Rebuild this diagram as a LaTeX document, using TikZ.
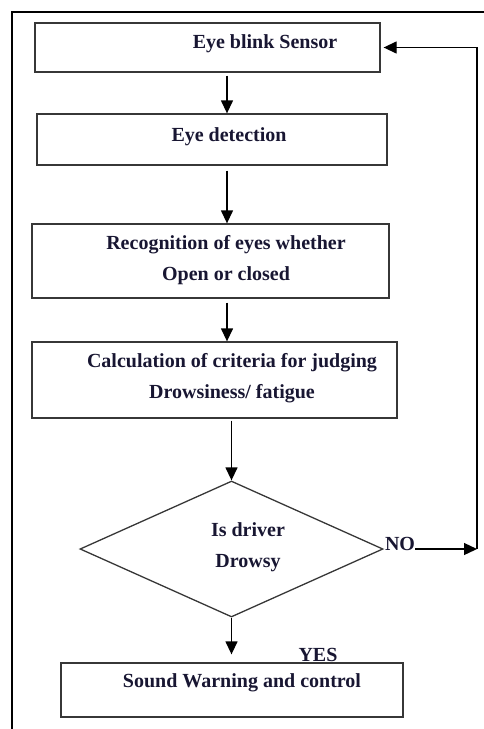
\documentclass[tikz,border=0pt]{standalone}
\usepackage{fontspec}
\setmainfont{Liberation Serif}
\usetikzlibrary{shapes.geometric, arrows.meta}

\definecolor{inkblue}{RGB}{24,22,50}
\definecolor{boxgray}{RGB}{55,55,55}

\tikzset{
  stage/.style 2 args = {draw = boxgray, line width = 1.3pt, minimum width = #1, minimum height = #2, inner sep = 0pt},
  decision/.style = {diamond, draw = boxgray, line width = 1.3pt, minimum width = 303pt, minimum height = 136pt, inner sep = 0pt},
  txt/.style = {text = inkblue, font = \fontsize{20}{31}\selectfont\bfseries, align = center, inner sep = 0pt},
  flow/.style = {line width = 1.3pt, -{Triangle[length = 13pt, width = 12pt]}}
}

\begin{document}
\begin{tikzpicture}[x = 1pt, y = -1pt]
\useasboundingbox (0,0) rectangle (484,729);
\draw[line width = 2pt] (12,729) -- (12,12) -- (484,12);

% boxes of the chain
\node[stage = {345pt}{49pt}] (sensor) at (207.5,47.5) {};
\node[stage = {350pt}{51pt}] (detect) at (212,139.5) {};
\node[stage = {357pt}{74pt}] (recog) at (210.5,261) {};
\node[stage = {365pt}{76pt}] (calc) at (214.5,380) {};
\node[decision] (drowsy) at (231.5,549) {};
\node[stage = {342pt}{54pt}] (warn) at (232,690) {};

% their texts
\node[txt] (sensortxt) at (265,44) {Eye blink Sensor};
\node[txt] (detecttxt) at (229,137) {Eye detection};
\node[txt] (recogtxt) at (226,260) {Recognition of eyes whether\\Open or closed};
\node[txt] (calctxt) at (232,378) {Calculation of criteria for judging\\Drowsiness/ fatigue};
\node[txt] (drowsytxt) at (248,547) {Is driver\\Drowsy};
\node[txt] (warntxt) at (242,683) {Sound Warning and control};
\node[txt] (notxt) at (400,544) {NO};
\node[txt] (yestxt) at (318,655) {YES};

\coordinate (spine) at (227,0);
\coordinate (loop) at (477,549);

\draw[flow, shorten <= 3pt] (sensor.south -| spine) -- (detect.north -| spine);
\draw[flow, shorten <= 5pt] (detect.south -| spine) -- (recog.north -| spine);
\draw[flow, shorten <= 4pt] (recog.south -| spine) -- (calc.north -| spine);
\draw[flow, shorten <= 2pt] (calc.south -| drowsy.north) -- (drowsy.north);
\draw[flow, shorten >= 8pt] (drowsy.south) -- (warn.north -| drowsy.south);
\draw[flow] (notxt.east |- loop) -- (loop);
\draw[flow, shorten >= 3pt] (loop) -- (loop |- sensor.east) -- (sensor.east);
\end{tikzpicture}
\end{document}
